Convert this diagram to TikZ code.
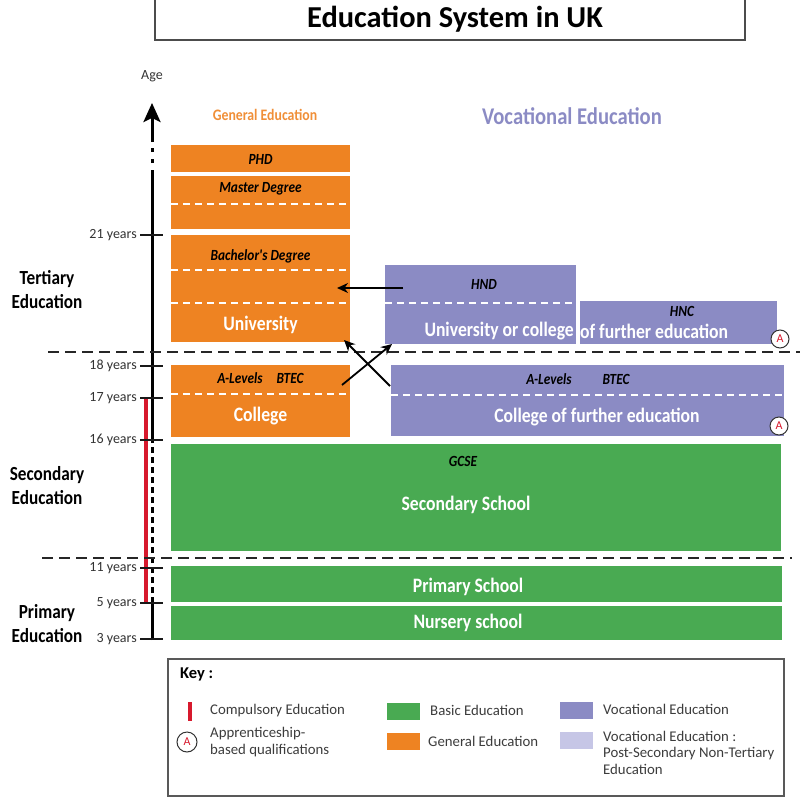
\documentclass[tikz,border=0pt]{standalone}
\usepackage{fontspec}
\setmainfont{Carlito}
\newfontfamily\cnd[FakeStretch=0.86]{Carlito}
\usetikzlibrary{arrows.meta}
\definecolor{orng}{RGB}{238,131,34}
\definecolor{purp}{RGB}{139,139,196}
\definecolor{lpurp}{RGB}{198,198,230}
\definecolor{grn}{RGB}{73,170,82}
\definecolor{cred}{RGB}{215,25,45}
\definecolor{keygray}{RGB}{60,60,60}
\tikzset{
  blk/.style={rectangle, draw=none, inner sep=0pt, outer sep=0pt},
  wdash/.style={white, line width=2.4pt, dash pattern=on 7pt off 5pt},
  bdash/.style={black!85, line width=2.8pt, dash pattern=on 11pt off 6pt},
  wlab/.style={text=white, font=\cnd\bfseries\fontsize{20.5}{23}\selectfont, inner sep=0pt},
  ilab/.style={text=black, font=\cnd\bfseries\itshape\fontsize{15.5}{17}\selectfont, inner sep=0pt},
  tickmark/.style={line width=2pt, black!90},
  agel/.style={font=\fontsize{14}{16}\selectfont, text=black!80, anchor=east, inner sep=0pt},
  sect/.style={font=\cnd\bfseries\fontsize{20}{24}\selectfont, align=center, inner sep=0pt},
  keyt/.style={font=\fontsize{14.8}{16.5}\selectfont, text=keygray, anchor=west, align=left, inner sep=0pt},
  circA/.style={circle, draw=black!80, line width=1pt, fill=white, minimum size=18pt, inner sep=0pt, text=cred, font=\fontsize{12}{14}\selectfont},
  arr/.style={-{Stealth[length=11pt,width=10pt]}, line width=1.8pt},
  swatch/.style={rectangle, inner sep=0pt, minimum width=33pt, minimum height=17pt},
}
\begin{document}
\begin{tikzpicture}[x=1pt,y=-1pt]
\useasboundingbox (0,0) rectangle (800,808);
% title
\draw[black!70, line width=1.2pt] (155,0) -- (155,40) -- (745,40) -- (745,0);
\node[font=\bfseries\fontsize{30.4}{33}\selectfont, inner sep=0pt] (title) at (455,19) {Education System in UK};
% headers
\node[font=\cnd\bfseries\fontsize{16}{18}\selectfont, text=orng!90, inner sep=0pt] (hgen) at (265,115) {General Education};
\node[font=\cnd\bfseries\fontsize{24}{27}\selectfont, text=purp, inner sep=0pt] (hvoc) at (572,116) {Vocational Education};
% age axis
\node[font=\fontsize{14}{16}\selectfont, text=black!80, inner sep=0pt] (age) at (152,76) {Age};
\draw[line width=3pt] (152,640) -- (152,603);
\draw[line width=3pt, dash pattern=on 6pt off 4pt] (152,603) -- (152,440);
\draw[line width=3pt] (152,440) -- (152,174);
\draw[line width=3pt, dash pattern=on 4pt off 7pt] (152,174) -- (152,142);
\draw[line width=3pt, -{Stealth[length=19pt,width=17pt,inset=4pt]}] (152,142) -- (152,103);
\draw[cred, line width=3.2pt] (146,398) -- (146,603);
\foreach \yy/\lab in {235/21 years,366/18 years,398/17 years,440/16 years,568/11 years,603/5 years,639/3 years}{
  \draw[tickmark] (140,\yy) -- (163,\yy);
  \node[agel] at (137,\yy) {\lab};
}
% section labels
\node[sect] (tert) at (47,290) {Tertiary\\Education};
\node[sect] (seco) at (47,486) {Secondary\\Education};
\node[sect] (prim) at (47,624) {Primary\\Education};
% separators
\draw[bdash] (48,352) -- (800,352);
\draw[bdash] (42,558) -- (792,558);
% orange blocks
\node[blk, fill=orng, minimum width=179pt, minimum height=27pt] (phd) at (260.5,158.5) {};
\node[blk, fill=orng, minimum width=179pt, minimum height=53pt] (master) at (260.5,202.5) {};
\node[blk, fill=orng, minimum width=179pt, minimum height=107pt] (bach) at (260.5,288.5) {};
\node[blk, fill=orng, minimum width=179pt, minimum height=72pt] (coll) at (260.5,401) {};
\draw[wdash] (171,204) -- (350,204);
\draw[wdash] (171,270) -- (350,270);
\draw[wdash] (171,303) -- (350,303);
\draw[wdash] (171,394) -- (350,394);
\node[ilab] (tphd) at (260.5,159) {PHD};
\node[ilab] (tmas) at (260.5,189) {Master Degree};
\node[ilab] (tbac) at (260.5,256) {Bachelor's Degree};
\node[wlab] (tuni) at (260.5,325) {University};
\node[ilab] (tal1) at (240,378) {A-Levels};
\node[ilab] (tbt1) at (290,378) {BTEC};
\node[wlab] (tcol) at (260.5,416) {College};
% purple blocks
\node[blk, fill=purp, minimum width=191pt, minimum height=79pt] (hnd) at (480.5,304.5) {};
\node[blk, fill=purp, minimum width=197pt, minimum height=43pt] (hnc) at (678.5,322.5) {};
\node[blk, fill=purp, minimum width=393pt, minimum height=71pt] (cfe) at (587.5,400.5) {};
\draw[wdash] (385,303) -- (576,303);
\draw[wdash] (391,395) -- (784,395);
\node[ilab] (thnd) at (484,284) {HND};
\node[ilab] (thnc) at (682,311) {HNC};
\node[wlab, anchor=east] (tuoc) at (574,331) {University or college};
\node[wlab, anchor=west] (tofe) at (580,331) {of further education};
\node[ilab] (tal2) at (549,379) {A-Levels};
\node[ilab] (tbt2) at (616,379) {BTEC};
\node[wlab] (tcfe) at (597,417) {College of further education};
\node[circA] (a1) at (780,339) {A};
\node[circA] (a2) at (779,426) {A};
% arrows
\coordinate (ahs) at (403,288);
\coordinate (ahe) at (337,288);
\draw[arr] (ahs) -- (ahe);
\coordinate (x1s) at (342,385);
\coordinate (x1e) at (392,344);
\coordinate (x2s) at (390,386);
\coordinate (x2e) at (344,340);
\draw[arr] (x1s) -- (x1e);
\draw[arr] (x2s) -- (x2e);
% green blocks
\node[blk, fill=grn, minimum width=610pt, minimum height=107pt] (sec) at (476,497.5) {};
\node[blk, fill=grn, minimum width=611pt, minimum height=36pt] (pri) at (476.5,584) {};
\node[blk, fill=grn, minimum width=611pt, minimum height=34pt] (nur) at (476.5,623) {};
\node[ilab] (tgcse) at (463,461) {GCSE};
\node[wlab] (tsec) at (466,505) {Secondary School};
\node[wlab] (tpri) at (468,587) {Primary School};
\node[wlab] (tnur) at (468,623) {Nursery school};
% key
\draw[black!65, line width=1.3pt] (168,659) rectangle (784,796);
\node[font=\bfseries\fontsize{16.5}{18}\selectfont, anchor=west, inner sep=0pt] (key) at (180,674) {Key :};
\draw[cred, line width=3.5pt] (190,702) -- (190,721);
\node[keyt] (kcomp) at (210,711) {Compulsory Education};
\node[circA, minimum size=20pt] (ka) at (187,742) {A};
\node[keyt] (kapp) at (210,742) {Apprenticeship-\\based qualifications};
\node[swatch, fill=grn] (sg) at (403.5,711) {};
\node[keyt] (kbas) at (430,710) {Basic Education};
\node[swatch, fill=orng] (so) at (403.5,741) {};
\node[keyt] (kgen) at (428,741) {General Education};
\node[swatch, fill=purp] (sp) at (576,710) {};
\node[keyt] (kvoc) at (603,709) {Vocational Education};
\node[swatch, fill=lpurp] (sl) at (576,740) {};
\node[keyt, anchor=north west] (kvoc2) at (603,731) {Vocational Education :\\Post-Secondary Non-Tertiary\\Education};
\end{tikzpicture}
\end{document}
